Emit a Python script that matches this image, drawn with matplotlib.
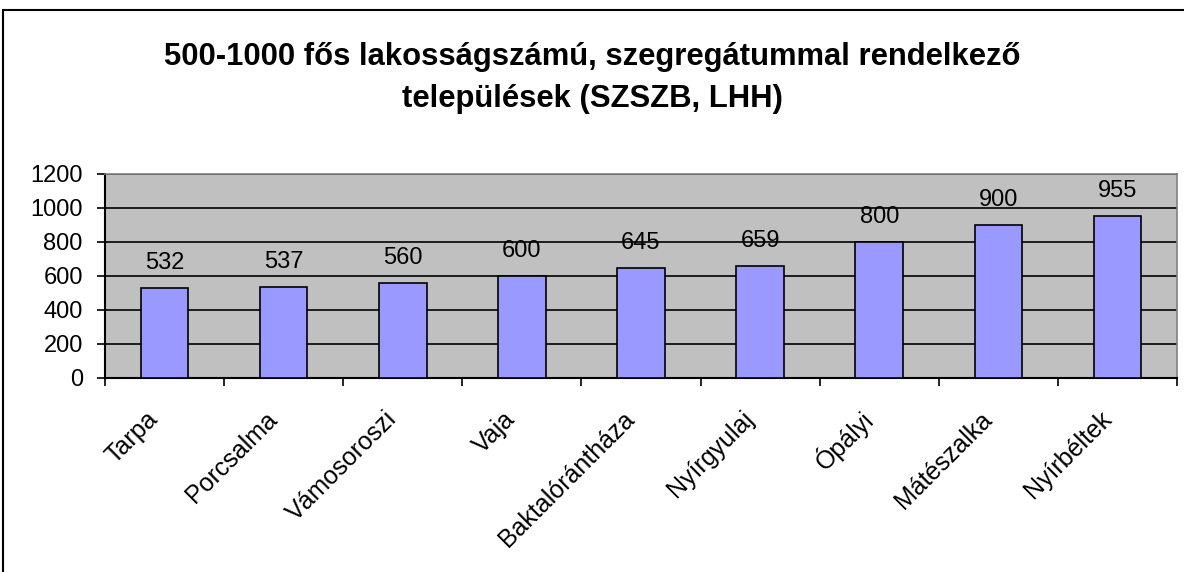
import numpy as np
import matplotlib.pyplot as plt
from matplotlib.patches import Rectangle
from matplotlib.transforms import ScaledTranslation

plt.rcParams['font.family'] = ['Liberation Sans', 'DejaVu Sans']

telepulesek = ['Tarpa', 'Porcsalma', 'Vámosoroszi', 'Vaja', 'Baktalórántháza',
               'Nyírgyulaj', 'Ópályi', 'Mátészalka', 'Nyírbéltek']
lakossag = [532, 537, 560, 600, 645, 659, 800, 900, 955]
y_ticks = [0, 200, 400, 600, 800, 1000, 1200]

fig = plt.figure(figsize=(11.84, 5.72), dpi=100)

# outer chart frame (bottom and right edges run off the image)
fig.patches.append(Rectangle((3 / 1184, -0.05), 1.1, 1 - 10 / 572 + 0.05,
                             transform=fig.transFigure, fill=False,
                             edgecolor='black', linewidth=1.5, clip_on=False))

ax = fig.add_axes([105 / 1184, 1 - 378 / 572, (1177 - 105) / 1184, (378 - 174) / 572])
ax.set_facecolor('#C0C0C0')

x = np.arange(len(telepulesek))
ax.bar(x, lakossag, width=0.4, color='#9999FF', edgecolor='black', linewidth=1.2, zorder=3)

for xi, v in zip(x, lakossag):
    ax.annotate(str(v), (xi, v), xytext=(0, 18), textcoords='offset points',
                ha='center', va='center', fontsize=17)

ax.set_xlim(-0.5, len(telepulesek) - 0.5)
ax.set_ylim(0, 1200)
ax.set_yticks(y_ticks)
ax.yaxis.grid(True, color='black', linewidth=1.2, zorder=1)
ax.set_axisbelow(True)
ax.tick_params(axis='y', labelsize=17, length=6, width=1.2, direction='out', pad=10)

# category ticks at boundaries, labels at centres
ax.set_xticks(np.arange(len(telepulesek) + 1) - 0.5)
ax.set_xticklabels([])
ax.set_xticks(x, minor=True)
ax.set_xticklabels(telepulesek, minor=True, rotation=45, ha='right', va='center',
                   rotation_mode='anchor', fontsize=18)
ax.tick_params(axis='x', which='major', length=6, width=1.2)
ax.tick_params(axis='x', which='minor', length=0, pad=27)
shift = ScaledTranslation(-10 / 100, 0, fig.dpi_scale_trans)
for lab in ax.get_xticklabels(minor=True):
    lab.set_transform(lab.get_transform() + shift)

for side in ['top', 'right']:
    ax.spines[side].set_color('#808080')
    ax.spines[side].set_linewidth(1.2)
for side in ['left', 'bottom']:
    ax.spines[side].set_color('black')
    ax.spines[side].set_linewidth(1.5)

fig.text(0.5, 1 - 78 / 572,
         '500-1000 fős lakosságszámú, szegregátummal rendelkező\ntelepülések (SZSZB, LHH)',
         ha='center', va='center', fontsize=22.3, fontweight='bold', linespacing=1.5)

fig.savefig('out.png', dpi=100)
